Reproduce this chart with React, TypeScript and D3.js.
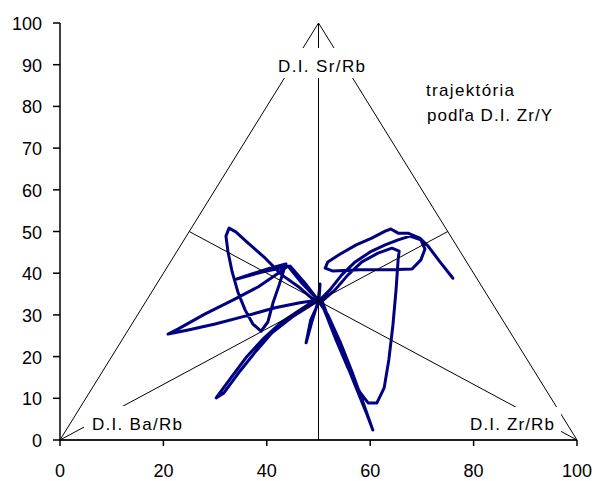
import React from "react";
import * as d3 from "d3";

// axis ticks
const xTickValues = [0, 20, 40, 60, 80, 100];
const yTickValues = [0, 10, 20, 30, 40, 50, 60, 70, 80, 90, 100];

// ternary frame (vertices) and median lines
const triangleX = [0, 50, 100, 0];
const triangleY = [0, 100, 0, 0];
const medianStartX = [50, 0, 100];
const medianStartY = [100, 0, 0];
const medianEndX = [50, 75, 25];
const medianEndY = [0, 50, 50];

// trajectory
const trajX = [
  76.0, 73.5, 71.2, 69.6, 67.3, 65.4, 64.0, 62.9, 60.3, 57.3, 54.2, 51.8, 51.3, 52.8, 58.0, 63.8, 68.1, 69.8, 70.6, 69.8,
  67.7, 65.4, 62.9, 60.0, 57.1, 54.5, 52.2, 50.3,
  51.5, 53.4, 55.7, 58.0, 59.6, 61.3, 62.7, 63.6, 64.4, 65.0, 65.4, 65.6, 64.2, 61.5, 58.4, 55.7, 53.2, 50.7,
  52.2, 54.5, 57.3, 59.2, 60.5, 58.8, 56.5, 54.2, 51.8, 50.1,
  48.5, 47.6, 48.7, 49.9, 50.3, 50.1,
  46.4, 41.6, 35.8, 30.0, 24.8, 20.9, 22.8, 28.0, 33.8, 38.3, 42.2, 44.1, 46.8, 49.7,
  46.4, 42.9, 39.5, 36.2, 33.3, 30.2, 31.7, 34.8, 37.9, 41.0, 44.9, 49.5,
  46.4, 42.9, 39.7, 36.4, 34.0, 32.7, 32.1, 32.5, 33.3, 34.4, 35.8, 37.3, 38.9, 40.2, 41.2, 42.4, 43.3, 43.7,
  40.6, 37.1, 34.2, 39.1, 44.5, 47.4, 49.9,
];
const trajY = [
  38.8, 42.7, 46.5, 48.4, 49.6, 49.6, 50.6, 50.1, 48.4, 46.8, 44.6, 42.7, 41.2, 40.5, 40.8, 40.8, 41.0, 43.2, 45.8, 48.0,
  48.9, 48.0, 46.8, 45.1, 42.7, 39.6, 36.0, 33.6,
  30.0, 24.0, 17.3, 11.5, 8.9, 8.9, 12.5, 19.2, 27.6, 36.0, 43.2, 45.3, 46.0, 44.8, 42.7, 39.6, 36.0, 33.3,
  28.3, 21.1, 12.5, 6.7, 2.4, 8.4, 16.3, 23.5, 30.0, 33.1,
  28.8, 23.3, 28.3, 33.1, 37.4, 33.6,
  32.9, 31.7, 29.7, 27.8, 26.4, 25.4, 26.6, 30.2, 33.8, 36.7, 40.0, 41.7, 37.6, 33.8,
  31.2, 28.3, 24.5, 20.1, 15.3, 10.1, 11.3, 16.5, 21.3, 25.7, 29.5, 33.1,
  36.5, 39.6, 43.6, 47.2, 49.9, 50.8, 48.9, 45.1, 40.3, 35.5, 31.2, 27.8, 26.1, 28.3, 32.9, 37.2, 40.8, 42.2,
  41.2, 39.8, 38.6, 40.3, 41.7, 37.6, 33.6,
];

const FONT = "'Liberation Sans', Arial, Helvetica, sans-serif";

export default function App() {
  const W = 596;
  const H = 481;
  const x = d3.scaleLinear().domain([0, 100]).range([60, 577]);
  const y = d3.scaleLinear().domain([0, 100]).range([440, 23]);

  const pts: [number, number][] = trajX.map((v, i) => [v, trajY[i]]);
  const line = d3
    .line<[number, number]>()
    .x((d) => x(d[0]))
    .y((d) => y(d[1]))
    .curve(d3.curveLinear);
  const triPts: [number, number][] = triangleX.map((v, i) => [v, triangleY[i]]);

  return (
    <div style={{ position: "absolute", left: 0, top: 0, width: W, height: H, background: "#fff" }}>
      <svg width={W} height={H} style={{ display: "block" }} fontFamily={FONT}>
        <rect x={0} y={0} width={W} height={H} fill="#fff" />
        {/* trajectory */}
        <path
          d={line(pts) || ""}
          fill="none"
          stroke="#000080"
          strokeWidth={3}
          strokeLinejoin="round"
          strokeLinecap="round"
        />
        {/* ternary frame */}
        <path d={line(triPts) || ""} fill="none" stroke="#000" strokeWidth={1} />
        {medianStartX.map((sx, i) => (
          <line
            key={"m" + i}
            x1={x(sx)}
            y1={y(medianStartY[i])}
            x2={x(medianEndX[i])}
            y2={y(medianEndY[i])}
            stroke="#000"
            strokeWidth={1}
          />
        ))}
        {/* label boxes */}
        <rect x={272} y={48} width={99} height={30} fill="#fff" />
        <rect x={84} y={406} width={106} height={31} fill="#fff" />
        <rect x={465} y={407} width={96} height={30} fill="#fff" />
        <text x={278} y={72} fontSize={17} textLength={87} lengthAdjust="spacing">D.I. Sr/Rb</text>
        <text x={92} y={430} fontSize={17} textLength={90} lengthAdjust="spacing">D.I. Ba/Rb</text>
        <text x={470} y={430} fontSize={17} textLength={84} lengthAdjust="spacing">D.I. Zr/Rb</text>
        <text x={426} y={96} fontSize={17} textLength={88} lengthAdjust="spacing">trajektória</text>
        <text x={427} y={121} fontSize={17} textLength={125} lengthAdjust="spacing">podľa D.I. Zr/Y</text>
        {/* axes */}
        <line x1={x(0)} y1={y(0)} x2={x(100)} y2={y(0)} stroke="#000" strokeWidth={1.5} />
        <line x1={x(0)} y1={y(0)} x2={x(0)} y2={y(100)} stroke="#000" strokeWidth={1.5} />
        {xTickValues.map((t) => (
          <g key={"xt" + t}>
            <line x1={x(t)} x2={x(t)} y1={y(0)} y2={y(0) + 6} stroke="#000" strokeWidth={1.5} />
            <text x={x(t)} y={477} fontSize={18} textAnchor="middle">{t}</text>
          </g>
        ))}
        {yTickValues.map((t) => (
          <g key={"yt" + t}>
            <line x1={x(0) - 7} x2={x(0)} y1={y(t)} y2={y(t)} stroke="#000" strokeWidth={1.5} />
            <text x={42} y={y(t) + 7} fontSize={18} textAnchor="end">{t}</text>
          </g>
        ))}
      </svg>
    </div>
  );
}
